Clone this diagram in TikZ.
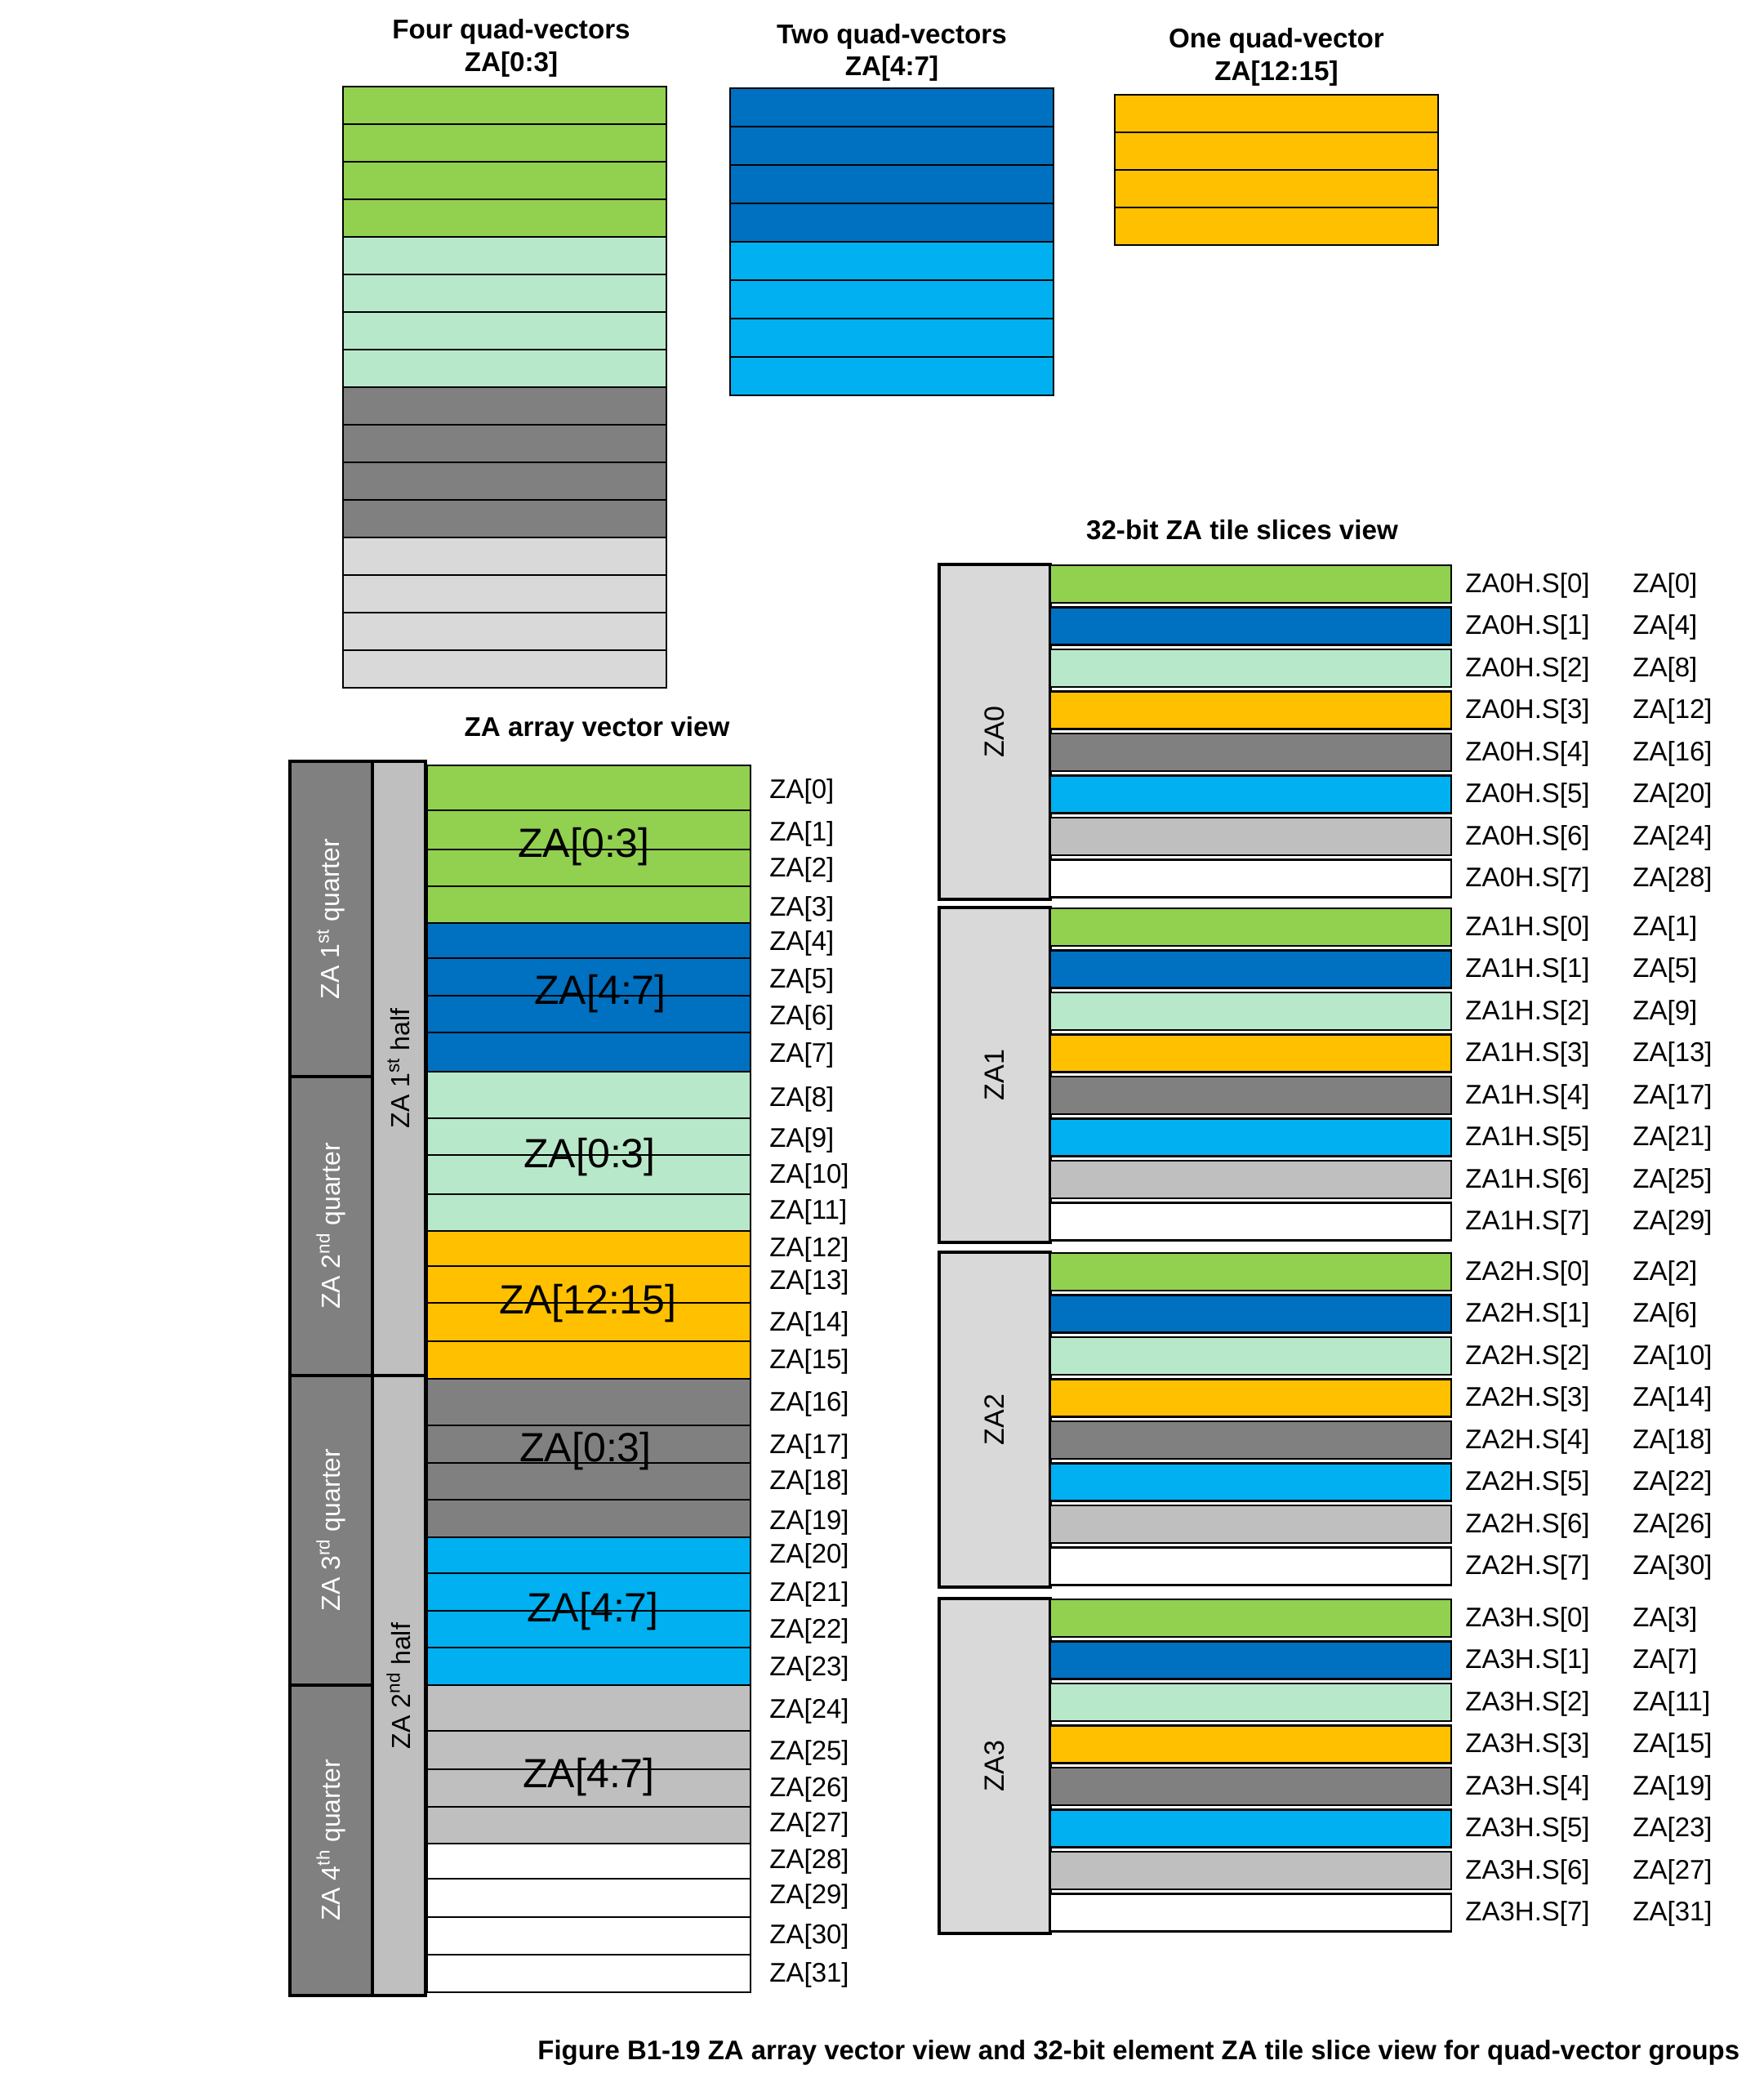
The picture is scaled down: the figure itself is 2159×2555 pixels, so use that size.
\documentclass[tikz,border=0pt]{standalone}
\usepackage{fontspec}
\setmainfont{Liberation Sans}
\definecolor{cgreen}{HTML}{92D050}
\definecolor{cdblue}{HTML}{0070C0}
\definecolor{cmint}{HTML}{B8E8CA}
\definecolor{corange}{HTML}{FFC000}
\definecolor{cdgray}{HTML}{808080}
\definecolor{clblue}{HTML}{00B0F0}
\definecolor{csilver}{HTML}{BFBFBF}
\definecolor{cpale}{HTML}{D9D9D9}
\begin{document}
\begin{tikzpicture}[x=0.5pt,y=-0.5pt,
  cell/.style={draw=black,line width=1.1pt},
  tcell/.style={draw=black,line width=1.3pt},
  heavy/.style={draw=black,line width=2.4pt},
  ttl/.style={font=\bfseries\fontsize{16.6}{20}\selectfont,anchor=base,inner sep=0pt},
  lab/.style={font=\fontsize{16.5}{20}\selectfont,anchor=west,inner sep=0pt},
  big/.style={font=\fontsize{25}{30}\selectfont,inner sep=0pt},
  side/.style={font=\fontsize{16}{20}\selectfont,rotate=90,inner sep=0pt}]
\useasboundingbox[fill=white] (0,0) rectangle (2159,2555);

% ---------- top stacks ----------
\foreach \i/\c in {0/cgreen,1/cgreen,2/cgreen,3/cgreen,4/cmint,5/cmint,6/cmint,7/cmint,8/cdgray,9/cdgray,10/cdgray,11/cdgray,12/cpale,13/cpale,14/cpale,15/cpale}
  \draw[tcell,fill=\c] (420,{106+46*\i}) rectangle (816,{152+46*\i});
\foreach \i/\c in {0/cdblue,1/cdblue,2/cdblue,3/cdblue,4/clblue,5/clblue,6/clblue,7/clblue}
  \draw[tcell,fill=\c] (894,{108+47*\i}) rectangle (1290,{155+47*\i});
\foreach \i in {0,1,2,3}
  \draw[tcell,fill=corange] (1365,{116+46*\i}) rectangle (1761,{162+46*\i});

\node[ttl] (t1a) at (626,47) {Four quad-vectors};
\node[ttl] (t1b) at (626,87) {ZA[0:3]};
\node[ttl] (t2a) at (1092,53) {Two quad-vectors};
\node[ttl] (t2b) at (1092,92) {ZA[4:7]};
\node[ttl] (t3a) at (1563,58) {One quad-vector};
\node[ttl] (t3b) at (1563,98) {ZA[12:15]};

% ---------- ZA array vector view ----------
\node[ttl,anchor=center] (tv) at (731,893) {ZA array vector view};

\foreach \t/\b/\c in {937/992/cgreen,992/1040/cgreen,1040/1085/cgreen,1085/1130/cgreen,
  1130/1173/cdblue,1173/1219/cdblue,1219/1264/cdblue,1264/1312/cdblue,
  1312/1369/cmint,1369/1414/cmint,1414/1462/cmint,1462/1507/cmint,
  1507/1550/corange,1550/1595/corange,1595/1642/corange,1642/1688/corange,
  1688/1745/cdgray,1745/1791/cdgray,1791/1836/cdgray,1836/1882/cdgray,
  1882/1926/clblue,1926/1972/clblue,1972/2017/clblue,2017/2063/clblue,
  2063/2119/csilver,2119/2166/csilver,2166/2212/csilver,2212/2257/csilver,
  2257/2300/white,2300/2347/white,2347/2393/white,2393/2439/white}
  \draw[cell,fill=\c] (523,\t) rectangle (919,\b);

% quarter and half columns
\foreach \t/\b in {932/1318,1318/1684,1684/2063,2063/2443}
  \draw[heavy,fill=cdgray] (355,\t) rectangle (456,\b);
\foreach \t/\b in {932/1684,1684/2443}
  \draw[heavy,fill=csilver] (456,\t) rectangle (521,\b);

\node[side,text=white] (q1) at (405,1125) {ZA 1\textsuperscript{st} quarter};
\node[side,text=white] (q2) at (405,1501) {ZA 2\textsuperscript{nd} quarter};
\node[side,text=white] (q3) at (405,1873) {ZA 3\textsuperscript{rd} quarter};
\node[side,text=white] (q4) at (405,2253) {ZA 4\textsuperscript{th} quarter};
\node[side] (h1) at (488,1308) {ZA 1\textsuperscript{st} half};
\node[side] (h2) at (488,2064) {ZA 2\textsuperscript{nd} half};

\node[big] (g1) at (715,1037) {ZA[0:3]};
\node[big] (g2) at (735,1217) {ZA[4:7]};
\node[big] (g3) at (722,1417) {ZA[0:3]};
\node[big] (g4) at (720,1596) {ZA[12:15]};
\node[big] (g5) at (717,1777) {ZA[0:3]};
\node[big] (g6) at (726,1973) {ZA[4:7]};
\node[big] (g7) at (721,2176) {ZA[4:7]};

\foreach \n/\y in {0/966,1/1018,2/1062,3/1110,4/1152,5/1198,6/1243,7/1289,
  8/1343,9/1393,10/1437,11/1481,12/1527,13/1567,14/1618,15/1664,
  16/1716,17/1768,18/1812,19/1861,20/1902,21/1949,22/1994,23/2040,
  24/2092,25/2143,26/2188,27/2231,28/2276,29/2319,30/2368,31/2415}
  \node[lab] (l\n) at (942,{\y+3}) {ZA[\n]};

% ---------- 32-bit ZA tile slices view ----------
\node[ttl,anchor=center] (ts) at (1521,649) {32-bit ZA tile slices view};

\foreach \t/\top in {0/691,1/1111,2/1533,3/1957}{
  \draw[heavy,fill=cpale] (1150,\top) rectangle (1286,{\top+410});
  \node[side,font=\fontsize{17}{20}\selectfont] (z\t) at (1218,{\top+205}) {ZA\t};
  \foreach \k/\c in {0/cgreen,1/cdblue,2/cmint,3/corange,4/cdgray,5/clblue,6/csilver,7/white}{
    \pgfmathsetmacro{\ya}{\top+1+51.5*\k}
    \pgfmathsetmacro{\yb}{\top+47+51.5*\k}
    \pgfmathsetmacro{\ym}{\top+25.5+51.5*\k}
    \pgfmathtruncatemacro{\n}{\t+4*\k}
    \draw[tcell,fill=\c] (1286,\ya) rectangle (1777,\yb);
    \node[lab] (s\t\k) at (1794,\ym) {ZA\t H.S[\k]};
    \node[lab] (a\t\k) at (1999,\ym) {ZA[\n]};
  }
}

\node[font=\bfseries\fontsize{16.45}{20}\selectfont,anchor=west,inner sep=0pt] (cap) at (658,2513)
  {Figure B1-19 ZA array vector view and 32-bit element ZA tile slice view for quad-vector groups};
\end{tikzpicture}
\end{document}
